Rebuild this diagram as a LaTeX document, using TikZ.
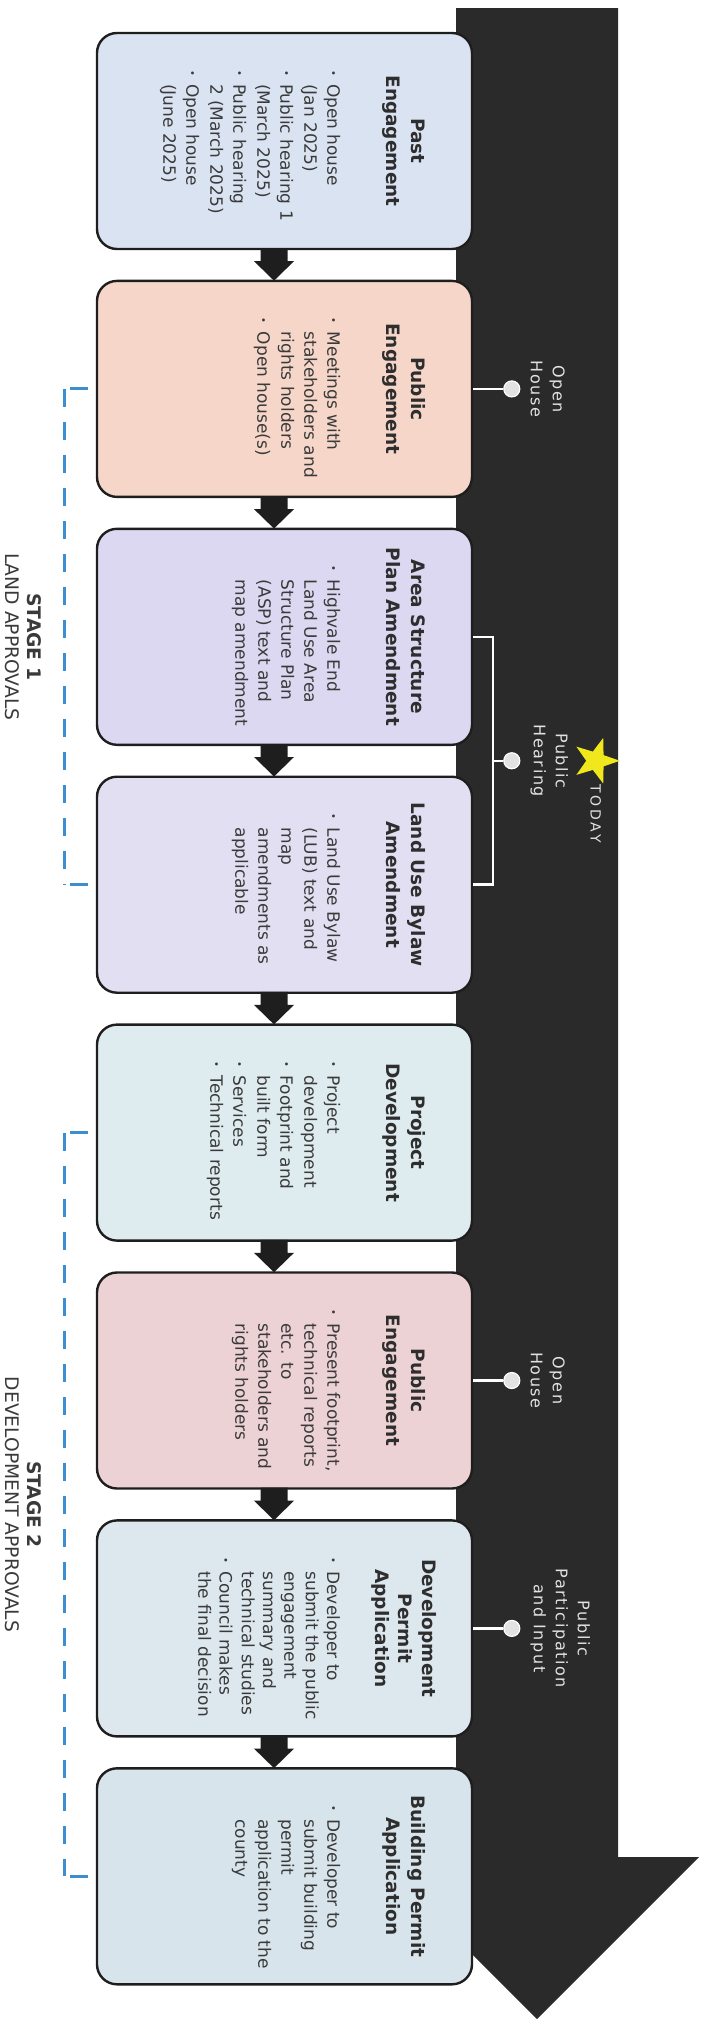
\documentclass[tikz,border=0pt]{standalone}
\usepackage{fontspec}
\setmainfont{DejaVu Sans}
\setsansfont{DejaVu Sans}
\newfontfamily\spacedfont{DejaVu Sans}[LetterSpace=10]
\newfontfamily\todayfont{DejaVu Sans}[LetterSpace=20]
\usetikzlibrary{shapes.geometric, positioning, calc}
\definecolor{colorTimeline}{HTML}{2A2A2A}
\definecolor{colorBorder}{HTML}{1E1E1E}
\definecolor{colorText}{HTML}{3A3A3A}
\definecolor{colorTitle}{HTML}{2E2E2E}
\definecolor{colorLabel}{HTML}{E2E2E2}
\definecolor{colorStage}{HTML}{3B8FD1}
\definecolor{colorStar}{HTML}{F0E81C}
\definecolor{fillPast}{HTML}{DAE3F2}
\definecolor{fillPublic}{HTML}{F5D6C9}
\definecolor{fillAsp}{HTML}{DCD8F1}
\definecolor{fillLub}{HTML}{E3DFF3}
\definecolor{fillProject}{HTML}{DFECEF}
\definecolor{fillPublicTwo}{HTML}{EDD2D5}
\definecolor{fillDevPermit}{HTML}{DCE7EE}
\definecolor{fillBldPermit}{HTML}{D8E4EB}

\newcommand{\ttlskip}{25}
\newcommand{\bodyskip}{23}
\newcommand{\ttlgap}{34pt}
\newcommand{\itm}[1]{\par\noindent\makebox[14pt][l]{\raisebox{2.5pt}{\fontsize{10}{10}\selectfont\textbullet}}%
  \begin{tabular}[t]{@{}l@{}}#1\end{tabular}\par}
\newcommand{\bxtext}[3][288pt]{%
  \begin{minipage}[c][#1][t]{142pt}
    \makebox[\linewidth]{\color{colorTitle}\bfseries\fontsize{18.5}{\ttlskip}\selectfont%
      \begin{tabular}[t]{@{}c@{}}#2\end{tabular}}\par
    \vspace{\ttlgap}
    \fontsize{17}{\bodyskip}\selectfont #3
  \end{minipage}}

\begin{document}
\begin{tikzpicture}[font=\sffamily, x=1pt, y=1pt, rotate=-90, transform shape,
        bx/.style={draw=colorBorder, line width=2.4pt, rounded corners=20pt, text=colorText,
            minimum width=216pt, minimum height=375pt, inner sep=0pt},
        bxtight/.style={execute at begin node={\renewcommand{\ttlskip}{23.5}%
            \renewcommand{\bodyskip}{21.3}\renewcommand{\ttlgap}{25pt}}},
        cn/.style={fill=colorBorder},
        pin/.style={draw=white, line width=2.5pt},
        dot/.style={circle, fill=colorLabel, draw=white, line width=1.2pt, minimum size=16pt, inner sep=0pt},
        lbl/.style={font=\spacedfont\fontsize{16}{22}\selectfont, text=colorLabel, align=center, inner sep=0pt},
        stg/.style={draw=colorStage, line width=3pt, dash pattern=on 18pt off 15pt},
        stgtxt/.style={font=\sffamily\fontsize{18.7}{22}\selectfont, text=colorText, align=center, inner sep=0pt}]
    \useasboundingbox (0,0) rectangle (2019,705);
    % timeline
    \fill[colorTimeline] (8,456) -- (8,618) -- (1857,618) -- (1857,699) -- (2019,537)
        -- (1857,375) -- (1857,456) -- cycle;

    % steps
    \node[bx, fill=fillPast] (past) at (141,284.5) {\bxtext{Past\\Engagement}{%
        \itm{Open house\\(Jan 2025)}\itm{Public hearing 1\\(March 2025)}%
        \itm{Public hearing\\2 (March 2025)}\itm{Open house\\(June 2025)}}};
    \node[bx, fill=fillPublic, right=29.5pt of past] (pub1) {\bxtext{Public\\Engagement}{%
        \itm{Meetings with\\stakeholders and\\rights holders}\itm{Open house(s)}}};
    \node[bx, fill=fillAsp, right=29.5pt of pub1] (asp) {\bxtext{Area Structure\\Plan Amendment}{%
        \itm{Highvale End\\Land Use Area\\Structure Plan\\(ASP) text and\\map amendment}}};
    \node[bx, fill=fillLub, right=29.5pt of asp] (lub) {\bxtext{Land Use Bylaw\\Amendment}{%
        \itm{Land Use Bylaw\\(LUB) text and\\map\\amendments as\\applicable}}};
    \node[bx, fill=fillProject, right=29.5pt of lub] (proj) {\bxtext{Project\\Development}{%
        \itm{Project\\development}\itm{Footprint and\\built form}\itm{Services}%
        \itm{Technical reports}}};
    \node[bx, fill=fillPublicTwo, right=29.5pt of proj] (pub2) {\bxtext{Public\\Engagement}{%
        \itm{Present footprint,\\technical reports\\etc. to\\stakeholders and\\rights holders}}};
    \node[bx, bxtight, fill=fillDevPermit, right=29.5pt of pub2] (dpa) {\bxtext[308pt]{Development\\Permit\\Application}{%
        \itm{Developer to\\submit the public\\engagement\\summary and\\technical studies}%
        \itm{Council makes\\the final decision}}};
    \node[bx, fill=fillBldPermit, right=29.5pt of dpa] (bpa) {\bxtext{Building Permit\\Application}{%
        \itm{Developer to\\submit building\\permit\\application to the\\county}}};

    % block arrows between steps
    \foreach \src/\dst in {past/pub1, pub1/asp, asp/lub, lub/proj, proj/pub2, pub2/dpa, dpa/bpa}
        \fill[cn] ($(\src.east)+(-2,-24)$) -- ($(\src.east)+(11,-24)$) -- ($(\src.east)+(11,-30.5)$)
            -- ($(\dst.west)+(1,-10.5)$) -- ($(\src.east)+(11,9.5)$) -- ($(\src.east)+(11,3)$)
            -- ($(\src.east)+(-2,3)$) -- cycle;

    % markers on the timeline
    \node[dot, above=30pt of pub1] (oh1) {};
    \draw[pin] (pub1.north) -- (oh1);
    \node[lbl, above=10pt of oh1] (oh1txt) {Open\\House};

    \draw[pin] (asp.north) -- ++(0,20) -| (lub.north);
    \coordinate (phmid) at ($(asp.north)!0.5!(lub.north)+(0,20)$);
    \node[dot, above=10pt of phmid] (ph) {};
    \draw[pin] (phmid) -- (ph);
    \node[lbl, above=10pt of ph] (phtxt) {Public\\Hearing};
    \node[star, star points=5, star point ratio=2.5, fill=colorStar, minimum size=48pt,
        inner sep=0pt] (today) at ($(ph)+(0,84)$) {};
    \node[font=\todayfont\fontsize{14}{16}\selectfont, text=colorLabel, inner sep=0pt,
        right=10pt of today] (todaytxt) {TODAY};

    \node[dot, above=30pt of pub2] (oh2) {};
    \draw[pin] (pub2.north) -- (oh2);
    \node[lbl, above=10pt of oh2] (oh2txt) {Open\\House};

    \node[dot, above=30pt of dpa] (ppi) {};
    \draw[pin] (dpa.north) -- (ppi);
    \node[lbl, above=10pt of ppi] (ppitxt) {Public\\Participation\\and Input};

    % stages
    \coordinate (s1a) at ($(pub1.center)+(0,-220.5)$);
    \coordinate (s1b) at ($(lub.center)+(0,-220.5)$);
    \draw[stg] ($(s1a)+(0,24)$) -- ($(s1a)+(0,6)$) (s1a) -- (s1b) ($(s1b)+(0,6)$) -- ($(s1b)+(0,24)$);
    \node[stgtxt] (stage1) at ($(s1a)!0.5!(s1b)+(0,-41)$) {\textbf{STAGE 1}\\LAND APPROVALS};

    \coordinate (s2a) at ($(proj.center)+(0,-220.5)$);
    \coordinate (s2b) at ($(bpa.center)+(0,-220.5)$);
    \draw[stg] ($(s2a)+(0,24)$) -- ($(s2a)+(0,6)$) (s2a) -- (s2b) ($(s2b)+(0,6)$) -- ($(s2b)+(0,24)$);
    \node[stgtxt] (stage2) at ($(s2a)!0.5!(s2b)+(0,-41)$) {\textbf{STAGE 2}\\DEVELOPMENT APPROVALS};
\end{tikzpicture}
\end{document}
